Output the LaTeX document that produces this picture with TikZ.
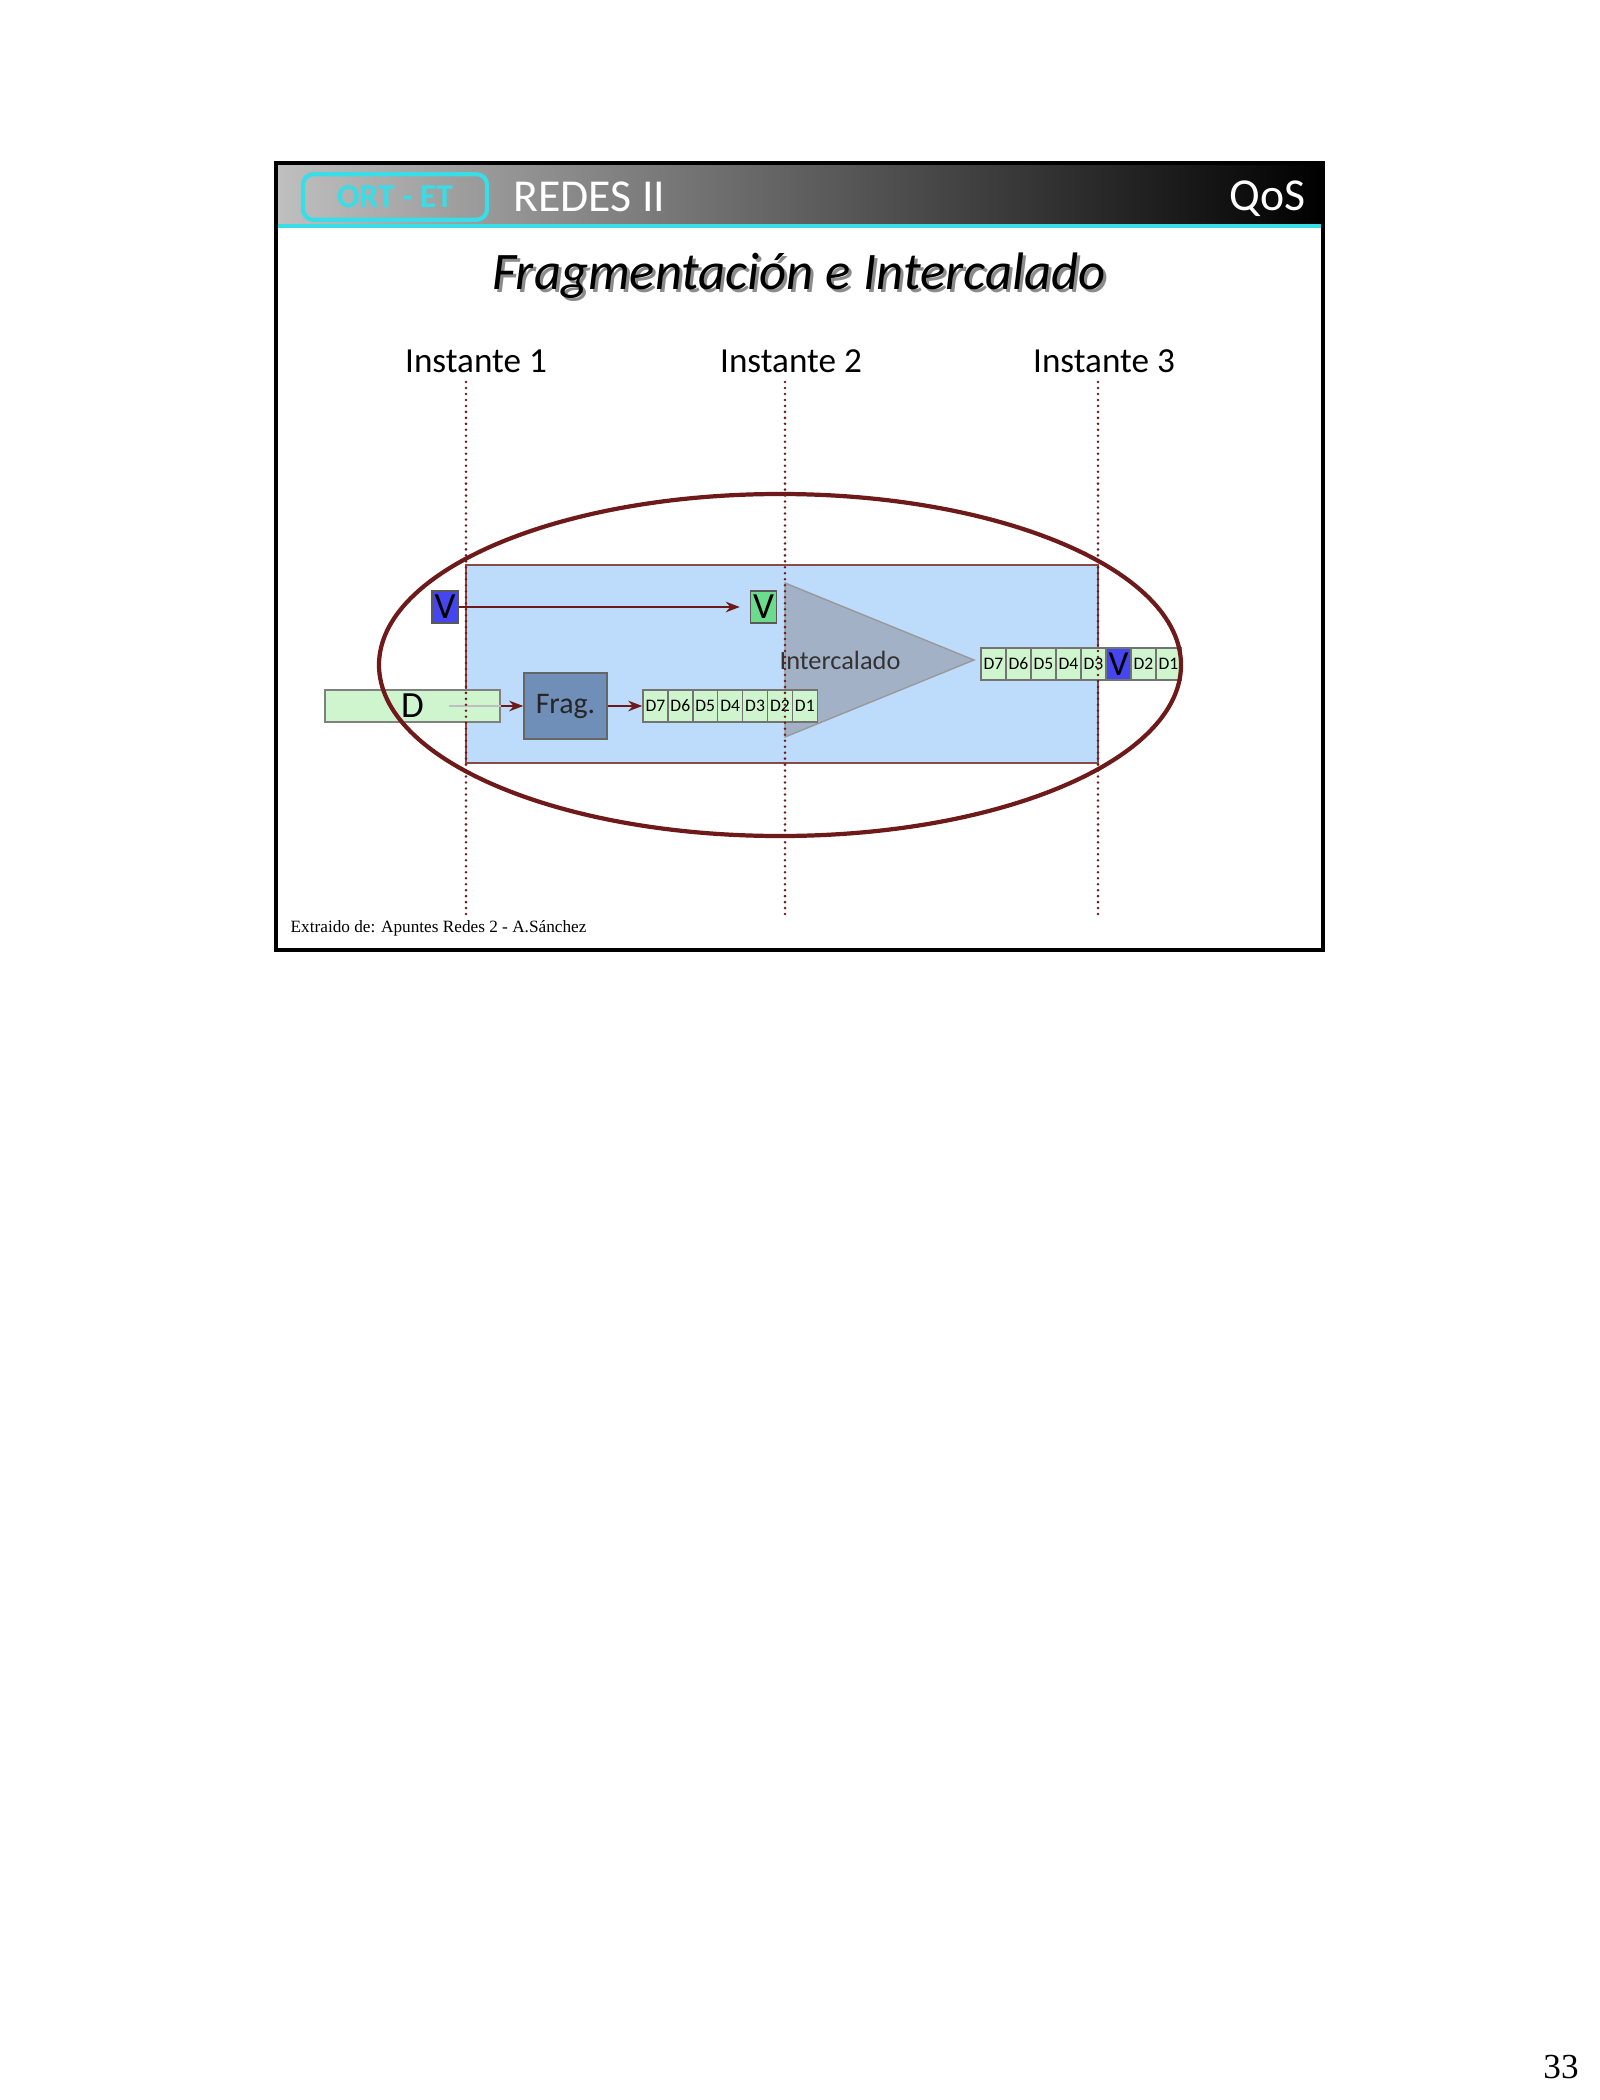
\documentclass[tikz,border=0pt]{standalone}
\usepackage{fontspec}
\setmainfont{Carlito}
\newfontfamily\serifa{Liberation Serif}
\usetikzlibrary{arrows.meta}
\definecolor{rojo}{HTML}{6E1A1A}
\definecolor{celeste}{HTML}{BDDCFB}
\definecolor{verdep}{HTML}{CFF5CF}
\definecolor{azulv}{HTML}{4646F0}
\definecolor{verdev}{HTML}{6CDC8C}
\definecolor{gristri}{HTML}{A3B1C6}
\definecolor{fragc}{HTML}{6F8FB8}
\definecolor{cian}{HTML}{38DDE6}
\begin{document}
\begin{tikzpicture}[x=0.01cm,y=-0.01cm,
    celda/.style={draw=black!55, fill=verdep, minimum width=0.249cm, minimum height=0.32cm, inner sep=0pt, font=\fontsize{5}{6}\selectfont},
    vsal/.style={celda, fill=azulv, font=\fontsize{10}{12}\selectfont},
    vcaja/.style={draw=black!65, minimum width=0.26cm, minimum height=0.32cm, inner sep=0pt, font=\fontsize{10.5}{12}\selectfont},
    flecha/.style={-{Stealth[length=4pt,width=3pt]}, draw=rojo, line width=0.6pt},
    instante/.style={font=\fontsize{10}{12}\selectfont},
    linea/.style={draw=rojo, line width=0.8pt, line cap=round, dash pattern=on 0pt off 1.7pt}]
    \useasboundingbox (0,0) rectangle (1600,2100);
    \fill[white] (0,0) rectangle (1600,2100);

    % cabecera
    \shade[left color=black!25, middle color=black!70, right color=black] (276,163) rectangle (1323,226);
    \fill[cian] (276,224) rectangle (1323,228);
    \node[draw=cian, line width=1.2pt, rounded corners=3pt, minimum width=1.84cm, minimum height=0.42cm, text=cian, font=\bfseries\fontsize{9.5}{11}\selectfont] (ort) at (395,197) {ORT - ET};
    \node[anchor=west, inner sep=0pt, text=white, font=\fontsize{13}{15}\selectfont] (redes) at (513,197) {REDES II};
    \node[anchor=east, inner sep=0pt, text=white, font=\fontsize{13}{15}\selectfont] (qos) at (1306,199) {QoS};

    % titulo
    \node[text=black!45, font=\itshape\fontsize{15}{18}\selectfont] at (802,279) {Fragmentación e Intercalado};
    \node[font=\itshape\fontsize{15}{18}\selectfont] (titulo) at (799,276) {Fragmentación e Intercalado};

    % instantes
    \node[instante] (i1) at (476,361) {Instante 1};
    \node[instante] (i2) at (791,361) {Instante 2};
    \node[instante] (i3) at (1104,361) {Instante 3};

    % zona azul e intercalador
    \draw[rojo!80, fill=celeste, line width=0.5pt] (466,565) rectangle (1098,763);
    \draw[fill=gristri, draw=black!40] (785,583) -- (974,660) -- (785,737) -- cycle;
    \node[text=black!80, font=\fontsize{7.5}{9}\selectfont] (inter) at (840,660) {Intercalado};

    % voz
    \node[vcaja, fill=azulv] (v1) at (445,607) {V};
    \node[vcaja, fill=verdev] (v2) at (763.5,607) {V};
    \draw[flecha] (v1.east) -- ([xshift=-0.1cm]v2.west);

    % datos y fragmentacion
    \node[draw=black!50, fill=verdep, minimum width=1.75cm, minimum height=0.32cm, inner sep=0pt, font=\fontsize{10.5}{12}\selectfont] (dato) at (412.5,706) {D};
    \draw[black!25] (449,706) -- (dato.east);
    \node[draw=black!60, fill=fragc, minimum width=0.83cm, minimum height=0.66cm, inner sep=0pt, text=black!85, font=\fontsize{8.5}{10}\selectfont] (frag) at (565.5,706) {Frag.};
    \draw[flecha] (dato.east) -- (frag.west);
    \foreach \t [count=\i] in {D7,D6,D5,D4,D3,D2,D1}
        \node[celda] (f\i) at ({643+24.9*(\i-0.5)},706) {\t};
    \draw[flecha] (frag.east) -- (f1.west);

    % salida
    \foreach \t/\e [count=\i] in {D7/celda,D6/celda,D5/celda,D4/celda,D3/celda,V/vsal,D2/celda,D1/celda}
        \node[\e] (s\i) at ({981+25*(\i-0.5)},664) {\t};

    % elipse y lineas de tiempo
    \draw[rojo, line width=1.2pt] (780,665) ellipse [x radius=401, y radius=171];
    \foreach \x in {466,785,1098}
        \draw[linea] (\x,382) -- (\x,916);

    % pie
    \node[anchor=west, inner sep=0pt, font=\serifa\fontsize{4.9}{6}\selectfont] (fuente) at (290,928) {Extraido de: Apuntes Redes 2 - A.Sánchez};
    \draw[line width=0.9pt] (276,163) rectangle (1323,950);
    \node[font=\serifa\fontsize{10}{12}\selectfont] (pag) at (1561,2067) {33};
\end{tikzpicture}
\end{document}
